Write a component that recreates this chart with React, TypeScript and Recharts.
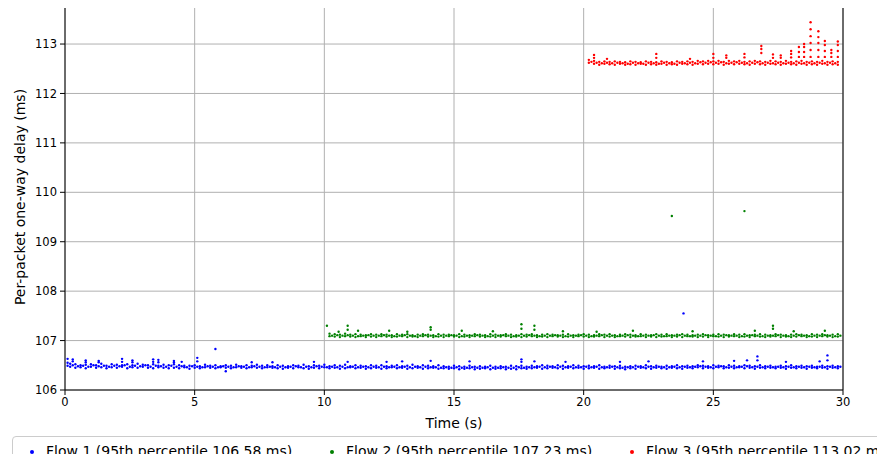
import React from "react";
import {
  ScatterChart,
  Scatter,
  XAxis,
  YAxis,
  CartesianGrid,
  ReferenceLine,
} from "recharts";

// Time ticks (s) and delay ticks (ms)
const xTicks = [0, 5, 10, 15, 20, 25, 30];
const yTicks = [106, 107, 108, 109, 110, 111, 112, 113];

// [time, lower delay, upper delay] of the dense band
const flow1Band: number[][] = [
  [0.2,106.47,106.53],[0.4,106.45,106.52],[0.6,106.46,106.5],[0.8,106.44,106.51],[1.0,106.47,106.52],
  [1.2,106.45,106.5],[1.4,106.46,106.53],[1.6,106.44,106.49],[1.8,106.46,106.52],[2.0,106.45,106.51],
  [2.2,106.47,106.5],[2.4,106.44,106.52],[2.6,106.46,106.5],[2.8,106.45,106.53],[3.0,106.47,106.51],
  [3.2,106.45,106.5],[3.4,106.44,106.52],[3.6,106.46,106.49],[3.8,106.45,106.51],[4.0,106.44,106.5],
  [4.2,106.45,106.52],[4.4,106.44,106.5],[4.6,106.46,106.49],[4.8,106.43,106.49],[5.0,106.45,106.5],
  [5.2,106.44,106.48],[5.4,106.46,106.51],[5.6,106.45,106.49],[5.8,106.44,106.5],[6.0,106.46,106.48],
  [6.2,106.45,106.5],[6.4,106.44,106.49],[6.6,106.46,106.51],[6.8,106.45,106.48],[7.0,106.44,106.5],
  [7.2,106.46,106.49],[7.4,106.45,106.51],[7.6,106.44,106.49],[7.8,106.46,106.5],[8.0,106.45,106.48],
  [8.2,106.44,106.5],[8.4,106.43,106.49],[8.6,106.45,106.48],[8.8,106.44,106.5],[9.0,106.46,106.49],
  [9.2,106.44,106.51],[9.4,106.43,106.48],[9.6,106.45,106.5],[9.8,106.44,106.49],[10.0,106.46,106.51],
  [10.2,106.44,106.48],[10.4,106.45,106.5],[10.6,106.43,106.49],[10.8,106.44,106.51],[11.0,106.46,106.48],
  [11.2,106.44,106.5],[11.4,106.45,106.49],[11.6,106.43,106.48],[11.8,106.44,106.5],[12.0,106.45,106.49],
  [12.2,106.43,106.5],[12.4,106.44,106.48],[12.6,106.46,106.49],[12.8,106.44,106.5],[13.0,106.45,106.48],
  [13.2,106.43,106.49],[13.4,106.44,106.51],[13.6,106.45,106.48],[13.8,106.43,106.5],[14.0,106.44,106.49],
  [14.2,106.45,106.48],[14.4,106.43,106.5],[14.6,106.44,106.48],[14.8,106.43,106.47],[15.0,106.44,106.49],
  [15.2,106.42,106.48],[15.4,106.43,106.47],[15.6,106.44,106.49],[15.8,106.42,106.47],[16.0,106.43,106.48],
  [16.2,106.44,106.47],[16.4,106.42,106.49],[16.6,106.43,106.47],[16.8,106.44,106.48],[17.0,106.42,106.47],
  [17.2,106.43,106.49],[17.4,106.42,106.48],[17.6,106.44,106.49],[17.8,106.43,106.47],[18.0,106.44,106.49],
  [18.2,106.45,106.48],[18.4,106.43,106.5],[18.6,106.44,106.49],[18.8,106.45,106.48],[19.0,106.44,106.5],
  [19.2,106.43,106.49],[19.4,106.45,106.48],[19.6,106.44,106.5],[19.8,106.45,106.49],[20.0,106.43,106.48],
  [20.2,106.44,106.49],[20.4,106.45,106.48],[20.6,106.43,106.5],[20.8,106.44,106.47],[21.0,106.45,106.49],
  [21.2,106.43,106.48],[21.4,106.44,106.49],[21.6,106.42,106.47],[21.8,106.44,106.48],[22.0,106.43,106.49],
  [22.2,106.45,106.48],[22.4,106.44,106.5],[22.6,106.43,106.48],[22.8,106.45,106.49],[23.0,106.44,106.47],
  [23.2,106.43,106.49],[23.4,106.45,106.48],[23.6,106.44,106.5],[23.8,106.43,106.48],[24.0,106.45,106.49],
  [24.2,106.44,106.48],[24.4,106.46,106.5],[24.6,106.44,106.49],[24.8,106.45,106.48],[25.0,106.44,106.5],
  [25.2,106.46,106.49],[25.4,106.44,106.48],[25.6,106.45,106.5],[25.8,106.44,106.49],[26.0,106.46,106.48],
  [26.2,106.44,106.5],[26.4,106.45,106.49],[26.6,106.43,106.48],[26.8,106.45,106.5],[27.0,106.44,106.48],
  [27.2,106.45,106.49],[27.4,106.44,106.47],[27.6,106.45,106.49],[27.8,106.43,106.48],[28.0,106.45,106.5],
  [28.2,106.44,106.48],[28.4,106.45,106.49],[28.6,106.43,106.48],[28.8,106.45,106.49],[29.0,106.44,106.47],
  [29.2,106.45,106.49],[29.4,106.43,106.48],[29.6,106.45,106.49],[29.8,106.44,106.48],
];

// [time, delay] packets between the band rows
const flow1Mid: number[][] = [
  [0.1,106.49],[0.3,106.5],[0.5,106.48],[0.7,106.49],[0.9,106.47],[1.1,106.5],[1.3,106.48],[1.5,106.49],
  [1.7,106.47],[1.9,106.49],[2.1,106.48],[2.3,106.5],[2.5,106.47],[2.7,106.49],[2.9,106.48],[3.1,106.5],
  [3.3,106.47],[3.5,106.49],[3.7,106.48],[3.9,106.47],[4.1,106.49],[4.3,106.47],[4.5,106.48],[4.7,106.46],
  [4.9,106.48],[5.1,106.47],[5.3,106.46],[5.5,106.48],[5.7,106.47],[5.9,106.46],[6.1,106.48],[6.3,106.47],
  [6.5,106.46],[6.7,106.48],[6.9,106.47],[7.1,106.46],[7.3,106.48],[7.5,106.47],[7.7,106.46],[7.9,106.47],
  [8.1,106.46],[8.3,106.47],[8.5,106.46],[8.7,106.47],[8.9,106.48],[9.1,106.46],[9.3,106.47],[9.5,106.46],
  [9.7,106.48],[9.9,106.47],[10.1,106.46],[10.3,106.47],[10.5,106.46],[10.7,106.47],[10.9,106.46],[11.1,106.47],
  [11.3,106.46],[11.5,106.47],[11.7,106.46],[11.9,106.47],[12.1,106.46],[12.3,106.47],[12.5,106.46],[12.7,106.47],
  [12.9,106.46],[13.1,106.47],[13.3,106.46],[13.5,106.47],[13.7,106.46],[13.9,106.47],[14.1,106.46],[14.3,106.46],
  [14.5,106.45],[14.7,106.46],[14.9,106.45],[15.1,106.46],[15.3,106.45],[15.5,106.45],[15.7,106.46],[15.9,106.45],
  [16.1,106.45],[16.3,106.46],[16.5,106.45],[16.7,106.45],[16.9,106.46],[17.1,106.45],[17.3,106.45],[17.5,106.46],
  [17.7,106.45],[17.9,106.46],[18.1,106.46],[18.3,106.47],[18.5,106.46],[18.7,106.47],[18.9,106.46],[19.1,106.47],
  [19.3,106.46],[19.5,106.47],[19.7,106.46],[19.9,106.46],[20.1,106.47],[20.3,106.46],[20.5,106.47],[20.7,106.46],
  [20.9,106.46],[21.1,106.47],[21.3,106.46],[21.5,106.45],[21.7,106.46],[21.9,106.46],[22.1,106.47],[22.3,106.46],
  [22.5,106.47],[22.7,106.46],[22.9,106.47],[23.1,106.46],[23.3,106.46],[23.5,106.47],[23.7,106.46],[23.9,106.47],
  [24.1,106.46],[24.3,106.47],[24.5,106.48],[24.7,106.47],[24.9,106.46],[25.1,106.47],[25.3,106.48],[25.5,106.46],
  [25.7,106.47],[25.9,106.46],[26.1,106.47],[26.3,106.48],[26.5,106.46],[26.7,106.47],[26.9,106.46],[27.1,106.47],
  [27.3,106.46],[27.5,106.47],[27.7,106.46],[27.9,106.47],[28.1,106.46],[28.3,106.47],[28.5,106.46],[28.7,106.47],
  [28.9,106.46],[29.1,106.47],[29.3,106.46],[29.5,106.47],[29.7,106.46],[29.9,106.47],
];

// [time, ...delays] for short spikes and isolated outliers
const flow1Spikes: number[][] = [
  [0.1,106.55,106.63],[0.3,106.58,106.62],[0.8,106.56,106.6],[1.3,106.56,106.59],[2.2,106.57,106.63],
  [2.6,106.56,106.6],[3.4,106.57,106.62],[3.6,106.56,106.61],[4.2,106.56,106.59],[4.5,106.57],
  [5.1,106.58,106.65],[5.8,106.83],[6.2,106.38],[7.2,106.56],[8.0,106.56],[9.6,106.57],
  [10.9,106.57],[12.4,106.57],[13.0,106.58],[14.1,106.59],[15.6,106.58],[17.6,106.57,106.62],
  [18.1,106.58],[19.3,106.57],[21.4,106.57],[22.5,106.58],[23.85,107.55],[24.6,106.58],
  [25.8,106.59],[26.3,106.6],[26.7,106.6,106.68],[27.8,106.57],[29.1,106.58],[29.4,106.6,106.7],
];

const flow2Band: number[][] = [
  [10.2,107.09,107.14],[10.4,107.08,107.13],[10.6,107.07,107.12],[10.8,107.09,107.14],[11.0,107.08,107.12],
  [11.2,107.07,107.13],[11.4,107.09,107.12],[11.6,107.07,107.11],[11.8,107.08,107.13],[12.0,107.07,107.12],
  [12.2,107.09,107.13],[12.4,107.08,107.12],[12.6,107.07,107.11],[12.8,107.08,107.13],[13.0,107.09,107.12],
  [13.2,107.07,107.13],[13.4,107.08,107.11],[13.6,107.07,107.12],[13.8,107.09,107.13],[14.0,107.08,107.12],
  [14.2,107.07,107.11],[14.4,107.08,107.13],[14.6,107.07,107.12],[14.8,107.09,107.12],[15.0,107.08,107.11],
  [15.2,107.07,107.13],[15.4,107.08,107.12],[15.6,107.07,107.11],[15.8,107.09,107.13],[16.0,107.08,107.12],
  [16.2,107.07,107.11],[16.4,107.08,107.13],[16.6,107.07,107.12],[16.8,107.08,107.11],[17.0,107.09,107.13],
  [17.2,107.07,107.12],[17.4,107.08,107.11],[17.6,107.07,107.13],[17.8,107.08,107.12],[18.0,107.09,107.13],
  [18.2,107.07,107.11],[18.4,107.08,107.12],[18.6,107.07,107.13],[18.8,107.09,107.12],[19.0,107.08,107.11],
  [19.2,107.07,107.12],[19.4,107.08,107.13],[19.6,107.07,107.11],[19.8,107.09,107.12],[20.0,107.08,107.13],
  [20.2,107.07,107.12],[20.4,107.08,107.11],[20.6,107.09,107.13],[20.8,107.07,107.12],[21.0,107.08,107.13],
  [21.2,107.07,107.11],[21.4,107.09,107.12],[21.6,107.08,107.13],[21.8,107.07,107.12],[22.0,107.08,107.11],
  [22.2,107.09,107.13],[22.4,107.07,107.12],[22.6,107.08,107.11],[22.8,107.07,107.13],[23.0,107.08,107.12],
  [23.2,107.09,107.13],[23.4,107.07,107.11],[23.6,107.08,107.12],[23.8,107.07,107.13],[24.0,107.09,107.12],
  [24.2,107.08,107.11],[24.4,107.07,107.12],[24.6,107.08,107.13],[24.8,107.07,107.11],[25.0,107.09,107.12],
  [25.2,107.08,107.13],[25.4,107.07,107.12],[25.6,107.08,107.11],[25.8,107.09,107.13],[26.0,107.07,107.12],
  [26.2,107.08,107.13],[26.4,107.07,107.11],[26.6,107.09,107.12],[26.8,107.08,107.13],[27.0,107.07,107.12],
  [27.2,107.08,107.11],[27.4,107.09,107.13],[27.6,107.07,107.12],[27.8,107.08,107.11],[28.0,107.07,107.12],
  [28.2,107.08,107.13],[28.4,107.09,107.12],[28.6,107.07,107.11],[28.8,107.08,107.13],[29.0,107.07,107.12],
  [29.2,107.09,107.13],[29.4,107.08,107.11],[29.6,107.07,107.12],[29.8,107.08,107.13],
];

const flow2Mid: number[][] = [
  [10.3,107.1],[10.5,107.11],[10.7,107.1],[10.9,107.11],[11.1,107.1],[11.3,107.09],[11.5,107.1],[11.7,107.11],
  [11.9,107.1],[12.1,107.1],[12.3,107.11],[12.5,107.1],[12.7,107.09],[12.9,107.1],[13.1,107.11],[13.3,107.1],
  [13.5,107.09],[13.7,107.1],[13.9,107.11],[14.1,107.1],[14.3,107.09],[14.5,107.1],[14.7,107.1],[14.9,107.11],
  [15.1,107.1],[15.3,107.09],[15.5,107.1],[15.7,107.1],[15.9,107.11],[16.1,107.1],[16.3,107.09],[16.5,107.1],
  [16.7,107.1],[16.9,107.11],[17.1,107.1],[17.3,107.09],[17.5,107.1],[17.7,107.1],[17.9,107.11],[18.1,107.1],
  [18.3,107.09],[18.5,107.1],[18.7,107.1],[18.9,107.11],[19.1,107.1],[19.3,107.09],[19.5,107.1],[19.7,107.1],
  [19.9,107.11],[20.1,107.1],[20.3,107.09],[20.5,107.1],[20.7,107.11],[20.9,107.1],[21.1,107.1],[21.3,107.09],
  [21.5,107.1],[21.7,107.11],[21.9,107.1],[22.1,107.09],[22.3,107.1],[22.5,107.1],[22.7,107.11],[22.9,107.1],
  [23.1,107.09],[23.3,107.1],[23.5,107.1],[23.7,107.11],[23.9,107.1],[24.1,107.09],[24.3,107.1],[24.5,107.1],
  [24.7,107.11],[24.9,107.1],[25.1,107.09],[25.3,107.1],[25.5,107.11],[25.7,107.1],[25.9,107.1],[26.1,107.09],
  [26.3,107.1],[26.5,107.11],[26.7,107.1],[26.9,107.09],[27.1,107.1],[27.3,107.1],[27.5,107.11],[27.7,107.1],
  [27.9,107.09],[28.1,107.1],[28.3,107.11],[28.5,107.1],[28.7,107.09],[28.9,107.1],[29.1,107.1],[29.3,107.11],
  [29.5,107.1],[29.7,107.09],[29.9,107.1],
];

const flow2Spikes: number[][] = [
  [10.1,107.3],[10.55,107.18],[10.9,107.22,107.3],[11.3,107.2],[12.5,107.2],[13.2,107.18],
  [14.1,107.22,107.27],[15.3,107.2],[16.5,107.19],[17.6,107.24,107.33],[18.1,107.22,107.3],
  [19.2,107.19],[20.5,107.18],[21.9,107.2],[23.4,109.52],[24.2,107.19],[26.2,109.62],
  [26.6,107.2],[27.3,107.24,107.3],[28.1,107.19],[29.3,107.2],
];

const flow3Band: number[][] = [
  [20.2,112.62,112.68],[20.4,112.6,112.66],[20.6,112.58,112.64],[20.8,112.6,112.65],[21.0,112.59,112.64],
  [21.2,112.58,112.65],[21.4,112.6,112.64],[21.6,112.58,112.63],[21.8,112.59,112.65],[22.0,112.58,112.64],
  [22.2,112.6,112.63],[22.4,112.58,112.65],[22.6,112.59,112.64],[22.8,112.58,112.63],[23.0,112.6,112.65],
  [23.2,112.58,112.64],[23.4,112.59,112.63],[23.6,112.58,112.65],[23.8,112.6,112.64],[24.0,112.59,112.65],
  [24.2,112.58,112.64],[24.4,112.6,112.66],[24.6,112.59,112.65],[24.8,112.6,112.66],[25.0,112.59,112.65],
  [25.2,112.6,112.66],[25.4,112.58,112.64],[25.6,112.6,112.66],[25.8,112.59,112.65],[26.0,112.6,112.66],
  [26.2,112.59,112.64],[26.4,112.58,112.65],[26.6,112.6,112.66],[26.8,112.59,112.65],[27.0,112.58,112.64],
  [27.2,112.6,112.66],[27.4,112.59,112.65],[27.6,112.58,112.64],[27.8,112.6,112.66],[28.0,112.59,112.64],
  [28.2,112.58,112.65],[28.4,112.6,112.66],[28.6,112.58,112.64],[28.8,112.59,112.65],[29.0,112.58,112.64],
  [29.2,112.6,112.66],[29.4,112.58,112.64],[29.6,112.59,112.65],[29.8,112.58,112.64],
];

const flow3Mid: number[][] = [
  [20.3,112.64],[20.5,112.62],[20.7,112.61],[20.9,112.62],[21.1,112.61],[21.3,112.62],[21.5,112.61],[21.7,112.6],
  [21.9,112.62],[22.1,112.61],[22.3,112.6],[22.5,112.62],[22.7,112.61],[22.9,112.6],[23.1,112.62],[23.3,112.61],
  [23.5,112.6],[23.7,112.62],[23.9,112.61],[24.1,112.62],[24.3,112.61],[24.5,112.63],[24.7,112.62],[24.9,112.63],
  [25.1,112.62],[25.3,112.63],[25.5,112.61],[25.7,112.62],[25.9,112.63],[26.1,112.62],[26.3,112.61],[26.5,112.62],
  [26.7,112.63],[26.9,112.61],[27.1,112.62],[27.3,112.61],[27.5,112.62],[27.7,112.61],[27.9,112.62],[28.1,112.61],
  [28.3,112.62],[28.5,112.61],[28.7,112.62],[28.9,112.61],[29.1,112.62],[29.3,112.61],[29.5,112.62],[29.7,112.61],
];

const flow3Spikes: number[][] = [
  [20.4,112.72,112.78],[20.9,112.7],[22.8,112.72,112.8],[24.1,112.7],[25.0,112.72,112.8],
  [25.5,112.72,112.77],[26.2,112.73,112.8],[26.85,112.82,112.9,112.96],[27.3,112.72,112.79],
  [27.6,112.72,112.77],[28.0,112.73,112.8,112.86],[28.3,112.74,112.84,112.94],
  [28.5,112.74,112.84,112.94,113.0],[28.75,112.74,112.88,113.02,113.16,113.3,113.44],
  [29.05,112.74,112.88,113.02,113.14,113.26],[29.3,112.74,112.86,112.98,113.06],
  [29.55,112.74,112.82,112.88],[29.8,112.74,112.86,112.98,113.05],
];

const toPoints = (band: number[][], mid: number[][], spikes: number[][]) => [
  ...band.flatMap(([t, a, b]) => [
    { t, d: a },
    { t, d: b },
  ]),
  ...mid.map(([t, d]) => ({ t, d })),
  ...spikes.flatMap(([t, ...vs]) => vs.map((d) => ({ t, d }))),
];

const flows = [
  { name: "Flow 1 (95th percentile 106.58 ms)", color: "#0000ff", data: toPoints(flow1Band, flow1Mid, flow1Spikes) },
  { name: "Flow 2 (95th percentile 107.23 ms)", color: "#008000", data: toPoints(flow2Band, flow2Mid, flow2Spikes) },
  { name: "Flow 3 (95th percentile 113.02 ms)", color: "#ff0000", data: toPoints(flow3Band, flow3Mid, flow3Spikes) },
];

const FONT = "'DejaVu Sans', sans-serif";
const Y_TOP = 113.81;

const makeDot = (color: string) => (props: any) => (
  <circle cx={props.cx} cy={props.cy} r={1.2} fill={color} />
);

const legendLeft = [17, 317, 617];

export default function App() {
  return (
    <div
      style={{
        position: "relative",
        width: 885,
        height: 462,
        margin: -8,
        overflow: "hidden",
        background: "#fff",
        fontFamily: FONT,
      }}
    >
      <ScatterChart
        width={885}
        height={462}
        margin={{ top: 4, right: 42, bottom: 42, left: 10 }}
      >
        <CartesianGrid stroke="#b0b0b0" strokeWidth={1} />
        <XAxis
          type="number"
          dataKey="t"
          domain={[0, 30]}
          ticks={xTicks}
          allowDataOverflow
          stroke="#000"
          tickSize={5}
          tickMargin={3}
          tick={{ fill: "#000", fontSize: 11.5, fontFamily: FONT }}
          height={30}
          label={{
            content: () => (
              <text x={454} y={428} textAnchor="middle" fontSize={14} fontFamily={FONT} fill="#000">
                Time (s)
              </text>
            ),
          }}
        />
        <YAxis
          type="number"
          dataKey="d"
          domain={[106, Y_TOP]}
          ticks={yTicks}
          allowDataOverflow
          stroke="#000"
          width={55}
          tickSize={5}
          tickMargin={3}
          tick={{ fill: "#000", fontSize: 11.5, fontFamily: FONT }}
          label={{
            content: () => (
              <text
                x={25}
                y={197}
                transform="rotate(-90 25 197)"
                textAnchor="middle"
                fontSize={14}
                fontFamily={FONT}
                fill="#000"
              >
                Per-packet one-way delay (ms)
              </text>
            ),
          }}
        />
        <ReferenceLine y={Y_TOP} stroke="#000" strokeWidth={1} />
        <ReferenceLine x={30} stroke="#000" strokeWidth={1} />
        {flows.map((f) => (
          <Scatter
            key={f.name}
            name={f.name}
            data={f.data}
            fill={f.color}
            shape={makeDot(f.color)}
            isAnimationActive={false}
          />
        ))}
      </ScatterChart>
      <div
        style={{
          position: "absolute",
          left: 12,
          top: 436,
          width: 900,
          height: 40,
          border: "1px solid #cccccc",
          borderRadius: 4,
          boxSizing: "border-box",
          background: "#fff",
        }}
      >
        {flows.map((f, i) => (
          <div
            key={f.name}
            style={{
              position: "absolute",
              left: legendLeft[i],
              top: 6,
              whiteSpace: "nowrap",
              fontSize: 14,
              fontFamily: FONT,
              color: "#000",
              lineHeight: "17px",
            }}
          >
            <span
              style={{
                display: "inline-block",
                width: 4,
                height: 4,
                borderRadius: 2,
                background: f.color,
                verticalAlign: "middle",
                marginRight: 12,
              }}
            />
            {f.name}
          </div>
        ))}
      </div>
    </div>
  );
}
